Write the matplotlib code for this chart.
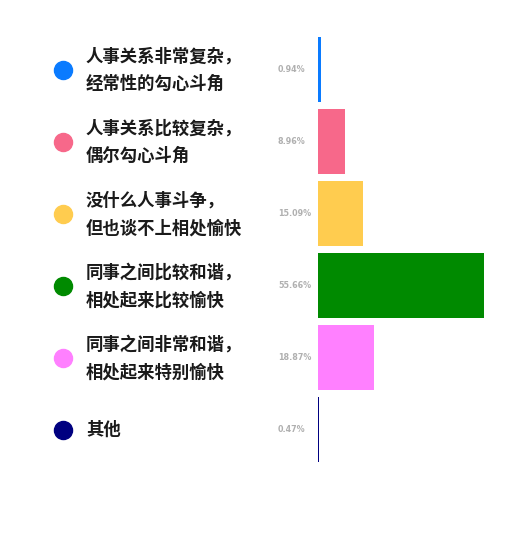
import matplotlib.pyplot as plt
from matplotlib.transforms import blended_transform_factory

categories = [
    "人事关系非常复杂，\n经常性的勾心斗角",
    "人事关系比较复杂，\n偶尔勾心斗角",
    "没什么人事斗争，\n但也谈不上相处愉快",
    "同事之间比较和谐，\n相处起来比较愉快",
    "同事之间非常和谐，\n相处起来特别愉快",
    "其他",
]
values = [0.94, 8.96, 15.09, 55.66, 18.87, 0.47]
colors = ["#0A7BFF", "#F7688A", "#FFCC4F", "#008A00", "#FF80FF", "#000080"]

W, H = 525, 540
fig = plt.figure(figsize=(W / 100, H / 100), dpi=100)

# bar area in pixel units: starts at x=318, ~2.98 px per percent
left, right = 318, 500
top, bottom = 33.5, 465.5
ax = fig.add_axes([left / W, 1 - bottom / H, (right - left) / W, (bottom - top) / H])
ax.set_xlim(0, (right - left) / 2.98)
ax.set_ylim(len(values) - 0.5, -0.5)
ax.axis("off")

ypos = list(range(len(values)))
ax.barh(ypos, values, height=0.9, color=colors)

trans = blended_transform_factory(fig.transFigure, ax.transData)
for y, label, v, c in zip(ypos, categories, values, colors):
    ax.plot([63 / W], [y], marker="o", markersize=13, color=c,
            transform=trans, clip_on=False)
    ax.text(86 / W, y + 0.01, label, transform=trans, va="center", ha="left",
            fontsize=12.5, fontweight="bold", linespacing=1.7,
            family=["Noto Sans CJK SC", "DejaVu Sans"], color="#1a1a1a")
    ax.text(278 / W, y, f"{v:.2f}%", transform=trans, va="center", ha="left",
            fontsize=5.8, fontweight="bold", color="#b0b0b0", family="DejaVu Sans")

fig.savefig("out.png", dpi=100)
